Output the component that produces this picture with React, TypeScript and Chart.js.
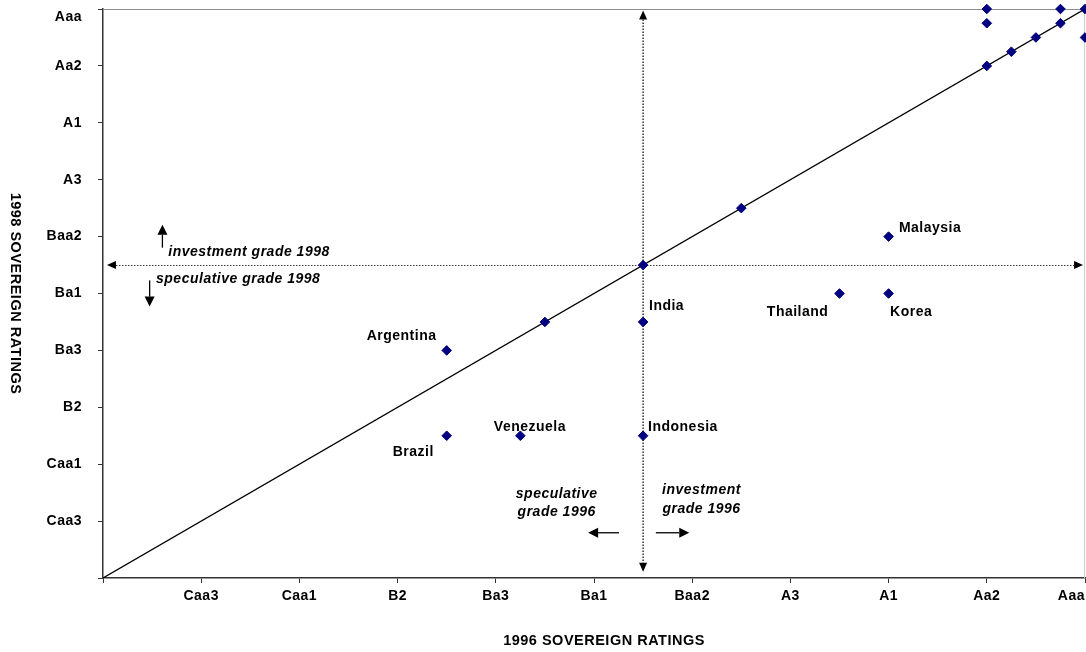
import React, { useEffect, useRef } from 'react';
import { Chart, registerables } from 'chart.js';

Chart.register(...registerables);

// ---- data ----
const ratingTickValues = [0, 2, 4, 6, 8, 10, 12, 14, 16, 18, 20];
const ratingLabels = ['', 'Caa3', 'Caa1', 'B2', 'Ba3', 'Ba1', 'Baa2', 'A3', 'A1', 'Aa2', 'Aaa'];

const rating1996 = [18, 18, 19.5, 19.5, 20, 20, 18, 18.5, 19, 13, 16, 11, 15, 16, 9, 11, 7, 7, 8.5, 11];
const rating1998 = [20, 19.5, 20, 19.5, 20, 19, 18, 18.5, 19, 13, 12, 11, 10, 10, 9, 9, 8, 5, 5, 5];

const diagonalX = [0, 20];
const diagonalY = [0, 20];

const investmentThreshold = 11;
const thresholdLineStart = [0.08, 0.22];
const thresholdLineEnd = [19.96, 19.95];

const countryNames = ['Malaysia', 'Thailand', 'Korea', 'India', 'Argentina', 'Venezuela', 'Brazil', 'Indonesia'];
const countryLabelX = [16.21, 13.52, 16.03, 11.12, 5.37, 7.96, 5.9, 11.1];
const countryLabelY = [12.28, 9.36, 9.36, 9.57, 8.51, 5.31, 4.44, 5.31];

const gradeTexts = ['investment grade 1998', 'speculative grade 1998', 'speculative', 'grade 1996', 'investment', 'grade 1996'];
const gradeTextX = [1.33, 1.08, 9.24, 9.24, 12.19, 12.19];
const gradeTextY = [11.47, 10.49, 2.95, 2.3, 3.08, 2.43];
const gradeTextAlign = ['left', 'left', 'center', 'center', 'center', 'center'];

const arrowFromX = [1.21, 0.95, 10.51, 11.26];
const arrowFromY = [11.61, 10.46, 1.59, 1.59];
const arrowToX = [1.21, 0.95, 9.88, 11.94];
const arrowToY = [12.42, 9.54, 1.59, 1.59];

const xAxisTitle = '1996 SOVEREIGN RATINGS';
const yAxisTitle = '1998 SOVEREIGN RATINGS';

const FONT = '"Liberation Sans", Arial, sans-serif';

function arrowHead(ctx: CanvasRenderingContext2D, fx: number, fy: number, tx: number, ty: number, len: number, half: number) {
  const dx = tx - fx;
  const dy = ty - fy;
  const d = Math.hypot(dx, dy) || 1;
  const ux = dx / d;
  const uy = dy / d;
  const bx = tx - ux * len;
  const by = ty - uy * len;
  ctx.beginPath();
  ctx.moveTo(tx, ty);
  ctx.lineTo(bx - uy * half, by + ux * half);
  ctx.lineTo(bx + uy * half, by - ux * half);
  ctx.closePath();
  ctx.fill();
  return [bx, by];
}

const annotationPlugin = {
  id: 'ratingAnnotations',
  beforeDraw(chart: any) {
    chart.ctx.letterSpacing = '0.5px';
  },
  beforeDatasetsDraw(chart: any) {
    const { ctx, chartArea, scales } = chart;
    const xs = scales.x;
    const ys = scales.y;
    ctx.save();
    // plot-area border top/right
    ctx.strokeStyle = '#8c8c8c';
    ctx.lineWidth = 1;
    ctx.beginPath();
    ctx.moveTo(chartArea.left, chartArea.top + 0.5);
    ctx.lineTo(chartArea.right, chartArea.top + 0.5);
    ctx.stroke();
    ctx.strokeStyle = '#cfcfcf';
    ctx.beginPath();
    ctx.moveTo(chartArea.right - 0.5, chartArea.top);
    ctx.lineTo(chartArea.right - 0.5, chartArea.bottom);
    ctx.stroke();

    // dotted threshold lines with arrowheads at both ends
    ctx.fillStyle = '#000';
    const hy = ys.getPixelForValue(investmentThreshold);
    const hx0 = xs.getPixelForValue(thresholdLineStart[0]);
    const hx1 = xs.getPixelForValue(thresholdLineEnd[0]);
    const vx = xs.getPixelForValue(investmentThreshold);
    const vy0 = ys.getPixelForValue(thresholdLineStart[1]);
    const vy1 = ys.getPixelForValue(thresholdLineEnd[1]);
    const hl = arrowHead(ctx, hx1, hy, hx0, hy, 9, 4);
    const hr = arrowHead(ctx, hx0, hy, hx1, hy, 9, 4);
    const vb = arrowHead(ctx, vx, vy1, vx, vy0, 9, 4);
    const vt = arrowHead(ctx, vx, vy0, vx, vy1, 9, 4);
    ctx.setLineDash([1.5, 1.5]);
    ctx.strokeStyle = '#333';
    ctx.lineWidth = 1;
    ctx.beginPath();
    ctx.moveTo(hl[0], Math.round(hy) + 0.5);
    ctx.lineTo(hr[0], Math.round(hy) + 0.5);
    ctx.stroke();
    ctx.strokeStyle = '#111';
    ctx.lineWidth = 1.3;
    ctx.beginPath();
    ctx.moveTo(vx, vt[1]);
    ctx.lineTo(vx, vb[1]);
    ctx.stroke();
    ctx.restore();
  },
  afterDatasetsDraw(chart: any) {
    const { ctx, scales } = chart;
    const xs = scales.x;
    const ys = scales.y;
    ctx.save();
    ctx.fillStyle = '#000';
    ctx.strokeStyle = '#000';
    ctx.lineWidth = 1.3;
    // small direction arrows
    for (let i = 0; i < arrowFromX.length; i++) {
      const fx = xs.getPixelForValue(arrowFromX[i]);
      const fy = ys.getPixelForValue(arrowFromY[i]);
      const tx = xs.getPixelForValue(arrowToX[i]);
      const ty = ys.getPixelForValue(arrowToY[i]);
      const base = arrowHead(ctx, fx, fy, tx, ty, 10, 5);
      ctx.beginPath();
      ctx.moveTo(fx, fy);
      ctx.lineTo(base[0], base[1]);
      ctx.stroke();
    }
    ctx.textBaseline = 'middle';
    // grade texts
    ctx.font = `italic bold 14px ${FONT}`;
    for (let i = 0; i < gradeTexts.length; i++) {
      ctx.textAlign = gradeTextAlign[i] as CanvasTextAlign;
      ctx.fillText(gradeTexts[i], xs.getPixelForValue(gradeTextX[i]), ys.getPixelForValue(gradeTextY[i]));
    }
    // country labels
    ctx.font = `bold 14px ${FONT}`;
    ctx.textAlign = 'left';
    for (let i = 0; i < countryNames.length; i++) {
      ctx.fillText(countryNames[i], xs.getPixelForValue(countryLabelX[i]), ys.getPixelForValue(countryLabelY[i]));
    }
    ctx.restore();
  },
  afterDraw(chart: any) {
    const { ctx, chartArea } = chart;
    ctx.save();
    ctx.fillStyle = '#000';
    ctx.font = `bold 14.5px ${FONT}`;
    ctx.textAlign = 'center';
    ctx.textBaseline = 'middle';
    ctx.fillText(xAxisTitle, (chartArea.left + chartArea.right) / 2 + 10, 641);
    ctx.translate(15, (chartArea.top + chartArea.bottom) / 2);
    ctx.rotate(Math.PI / 2);
    ctx.fillText(yAxisTitle, 0, 0);
    ctx.restore();
  },
};

function labelFor(value: number) {
  const idx = ratingTickValues.indexOf(value);
  return idx >= 0 ? ratingLabels[idx] : '';
}

export default function App() {
  const canvasRef = useRef<HTMLCanvasElement | null>(null);

  useEffect(() => {
    document.body.style.margin = '0';
    const canvas = canvasRef.current;
    if (!canvas) return;
    const points = rating1996.map((x, i) => ({ x, y: rating1998[i] }));
    const diagonal = diagonalX.map((x, i) => ({ x, y: diagonalY[i] }));
    const tickFont = { family: FONT, size: 14, weight: 'bold' as const };
    const chart = new Chart(canvas, {
      type: 'scatter',
      data: {
        datasets: [
          {
            data: points,
            pointStyle: 'rectRot',
            pointRadius: 4.8,
            backgroundColor: '#000080',
            borderColor: '#000080',
            borderWidth: 1,
            clip: false,
            order: 0,
          } as any,
          {
            type: 'line',
            data: diagonal,
            borderColor: '#000',
            borderWidth: 1.3,
            pointRadius: 0,
            showLine: true,
            fill: false,
            order: 1,
          } as any,
        ],
      },
      options: {
        animation: false,
        responsive: false,
        devicePixelRatio: 1,
        layout: { autoPadding: false, padding: { top: 9, right: 1, left: 0, bottom: 0 } },
        plugins: { legend: { display: false }, tooltip: { enabled: false } },
        scales: {
          x: {
            type: 'linear',
            min: 0,
            max: 20,
            afterFit: (s: any) => {
              s.height = 74;
              s.paddingLeft = 0;
              s.paddingRight = 0;
            },
            ticks: {
              stepSize: 2,
              autoSkip: false,
              maxRotation: 0,
              align: 'inner',
              padding: 5,
              color: '#000',
              font: { ...tickFont, lineHeight: 1.2 },
              callback: (v: any) => labelFor(Number(v)),
            },
            grid: { drawOnChartArea: false, drawTicks: true, tickLength: 5, color: '#333', lineWidth: 1 },
            border: { display: true, color: '#333', width: 1.5 },
          },
          y: {
            type: 'linear',
            min: 0,
            max: 20,
            afterFit: (s: any) => {
              s.width = 103;
              s.paddingTop = 0;
              s.paddingBottom = 0;
            },
            ticks: {
              stepSize: 2,
              autoSkip: false,
              padding: 16,
              color: '#000',
              font: { ...tickFont, lineHeight: 1.1 },
              callback: (v: any) => {
                const n = Number(v);
                return n === ratingTickValues[ratingTickValues.length - 1] ? ['', labelFor(n)] : labelFor(n);
              },
            },
            grid: { drawOnChartArea: false, drawTicks: true, tickLength: 5, color: '#333', lineWidth: 1 },
            border: { display: true, color: '#333', width: 1.5 },
          },
        },
      } as any,
      plugins: [annotationPlugin],
    });
    return () => chart.destroy();
  }, []);

  return (
    <div style={{ position: 'fixed', left: 0, top: 0, width: 1086, height: 652, background: '#fff' }}>
      <canvas ref={canvasRef} width={1086} height={652} style={{ display: 'block' }} />
    </div>
  );
}
